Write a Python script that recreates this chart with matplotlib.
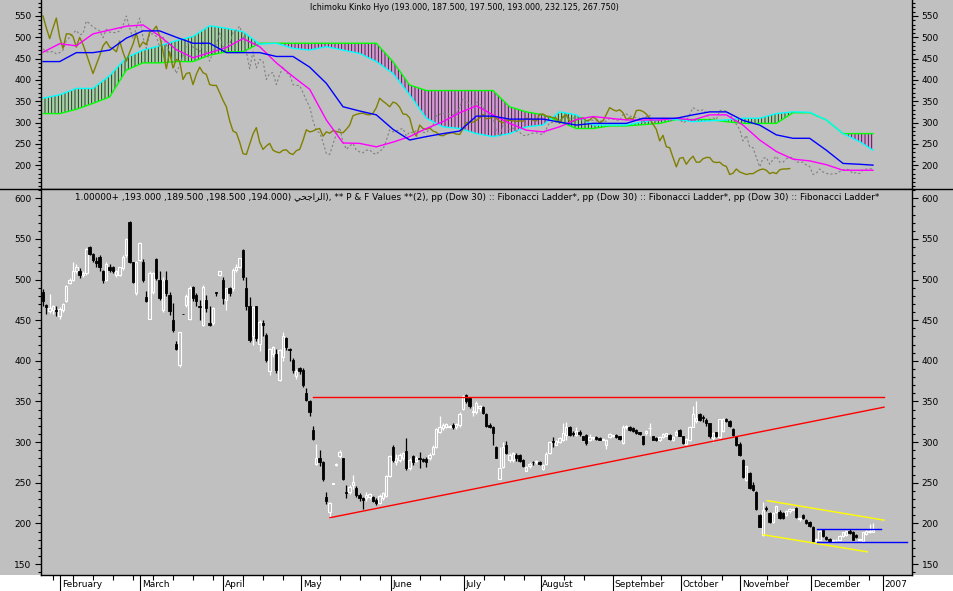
import numpy as np
import matplotlib
matplotlib.use("Agg")
import matplotlib.pyplot as plt
from matplotlib.lines import Line2D
from matplotlib.patches import Rectangle
from matplotlib.transforms import blended_transform_factory

# daily candles (6 trading days / week), index 0 = late January 2006
opens = [485,469,461,462,462,455,463,474,496,500,
         510,511,505,508,540,532,523,528,510,500,
         516,515,506,506,514,530,571,522,483,524,
         522,478,452,485,525,500,463,500,481,450,
         421,395,458,469,452,491,481,467,444,475,
         446,446,485,506,500,475,489,489,512,516,
         536,490,467,430,467,421,446,432,387,409,
         409,377,405,428,414,401,381,391,389,360,
         350,315,273,280,276,233,214,249,272,283,
         280,239,239,247,243,235,231,231,232,232,
         229,225,231,234,258,294,276,278,280,289,
         268,283,277,280,279,279,280,285,294,313,
         317,319,319,321,318,321,341,358,354,337,
         337,342,343,335,321,319,294,255,269,296,
         278,278,284,284,278,265,270,276,276,276,
         267,273,286,301,297,300,303,309,319,311,
         309,313,307,309,302,305,306,305,303,297,
         306,308,309,307,299,319,319,317,315,312,
         307,311,317,307,305,302,306,308,309,302,
         309,315,307,298,303,319,326,335,331,327,
         323,305,312,306,314,328,326,316,307,298,
         278,253,262,247,239,210,186,219,213,202,
         214,214,213,210,215,217,219,206,210,204,
         202,196,179,180,192,183,181,178,179,180,
         184,186,191,190,186,180,178,187,189,190]
highs = [488,470,482,469,467,466,471,493,502,521,
         519,514,511,539,541,533,528,530,512,521,
         519,517,512,516,530,551,572,522,523,546,
         525,486,510,509,527,511,503,511,485,471,
         425,436,458,482,492,492,483,475,493,481,
         467,466,485,511,503,490,491,514,519,527,
         537,503,478,468,468,450,450,434,416,418,
         415,414,435,429,416,403,390,393,391,366,
         352,320,298,290,277,239,226,250,274,290,
         281,247,247,259,246,238,233,239,238,234,
         231,236,239,260,284,297,285,287,288,305,
         281,284,283,288,281,282,286,296,317,332,
         323,324,321,323,324,337,358,359,355,344,
         350,346,344,336,323,320,295,294,300,301,
         286,288,287,285,279,271,276,277,278,277,
         273,288,301,306,302,306,324,325,320,314,
         318,315,308,310,310,306,307,306,305,304,
         311,309,310,308,321,321,320,318,316,313,
         308,315,323,308,306,307,311,311,310,307,
         315,316,308,305,320,344,350,336,333,330,
         324,313,313,329,330,330,327,317,308,300,
         279,271,263,251,240,211,226,222,214,214,
         221,216,214,216,219,219,220,207,211,205,
         203,197,182,192,193,184,182,181,181,186,
         190,192,193,191,187,181,190,192,199,200]
lows = [468,458,459,457,455,452,460,472,494,498,
        508,502,503,505,530,521,516,510,496,498,
        509,508,503,504,512,528,520,496,481,523,
        497,472,451,482,499,475,460,480,456,436,
        413,393,457,466,450,474,468,450,443,460,
        443,444,480,504,470,463,480,486,509,514,
        500,463,423,420,425,412,430,398,383,405,
        385,375,400,413,400,385,378,384,368,350,
        332,302,272,271,252,224,207,248,271,280,
        253,231,236,242,233,228,218,228,230,226,
        223,224,229,233,257,275,272,275,278,266,
        266,272,275,268,275,269,278,284,293,311,
        315,317,317,316,316,318,339,348,342,332,
        335,338,335,319,317,296,280,254,268,285,
        276,276,277,276,269,264,268,272,273,272,
        266,272,285,294,296,299,301,303,308,308,
        307,308,302,296,301,303,303,302,302,292,
        305,306,305,303,298,316,314,313,310,309,
        296,309,307,302,301,301,305,307,303,301,
        307,307,298,297,301,318,324,326,325,320,
        305,300,306,305,313,325,319,308,295,283,
        256,252,242,240,217,195,185,215,201,201,
        213,206,206,209,213,216,207,203,206,199,
        196,177,177,179,183,180,177,177,178,179,
        183,185,187,179,182,179,177,186,188,189]
closes = [473,466,465,467,461,464,470,492,500,510,
          516,506,508,538,532,524,520,515,499,519,
          512,511,511,515,528,550,522,497,522,545,
          500,474,508,508,502,477,500,483,461,438,
          415,436,457,480,490,477,473,466,491,465,
          444,465,484,510,477,489,483,512,516,526,
          503,467,426,466,428,448,444,401,415,417,
          389,413,430,417,413,389,387,387,370,352,
          337,304,280,276,254,227,225,249,273,288,
          254,237,245,251,235,231,229,235,236,228,
          225,234,237,258,283,278,280,284,286,268,
          278,275,281,279,277,276,284,294,316,319,
          321,322,319,318,322,335,357,350,344,337,
          348,345,336,320,319,311,281,268,294,286,
          284,287,280,277,270,269,273,275,276,273,
          272,285,300,300,301,305,311,319,309,310,
          314,310,303,299,306,305,304,303,304,303,
          310,308,306,304,319,320,315,314,311,310,
          298,314,317,303,302,306,310,311,304,306,
          313,308,299,304,319,335,330,327,330,323,
          307,311,307,328,329,326,320,309,296,284,
          257,270,243,241,218,196,216,218,202,213,
          221,207,207,215,218,218,208,206,207,200,
          197,178,181,191,184,181,178,180,180,185,
          189,191,188,180,183,180,189,191,191,192]

# ichimoku lines read every 5 days
ichi_x = list(range(0, 250, 5)) + [249]
tenkan = [465,485,480,508,517,526,529,503,471,452,
          464,476,497,478,440,408,378,306,252,251,
          243,254,267,286,302,323,339,318,298,282,
          278,290,307,314,310,306,306,306,310,306,
          318,318,294,259,232,214,210,201,188,188,188]
kijun = [443,443,464,464,470,498,515,515,500,486,
         486,464,464,464,455,455,430,392,337,327,
         318,284,259,267,274,280,315,315,308,308,
         308,301,294,298,298,298,310,310,310,318,
         325,325,305,294,271,263,263,235,204,202,200]
senkou_a = [357,365,380,380,410,452,470,480,492,502,
            527,521,513,484,486,474,470,478,470,462,
            443,415,365,310,290,286,274,267,274,290,
            294,325,318,294,294,294,302,307,307,302,
            304,306,310,310,321,325,324,306,274,255,235]
senkou_b = [321,321,331,345,360,423,440,440,443,443,
            458,466,466,486,486,486,486,486,486,486,
            486,443,388,375,375,375,375,375,337,325,
            318,302,286,286,292,292,295,298,307,307,
            307,302,298,298,298,323,323,306,274,274,274]
chikou_shift = 25

months = ["February", "March", "April", "May", "June", "July", "August",
          "September", "October", "November", "December", "2007"]
month_pos = [5.1, 29.1, 54.0, 77.4, 104.4, 126.3, 149.3, 171.0, 191.4, 209.1, 230.4, 252.0]
week_pos = [3.1, 9.1, 15.1, 21.1, 27.1, 33.1, 39.1, 45.1, 51.1, 60.1, 66.1, 72.1,
            83.1, 89.1, 95.1, 101.1, 113.1, 119.1, 132.3, 138.3, 144.3, 156.3, 162.3,
            179.3, 185.3, 197.3, 203.8, 217.3, 223.3, 241.8, 247.8]

# drawn trend lines (start index, start value, end index, end value)
resistance = (81, 356, 252.3, 356)
support = (86.1, 207, 252.3, 343)
channel_hi = (217.3, 228, 252.3, 204)
channel_lo = (216.1, 186, 247.3, 165)
box_hi = (232.1, 192.6, 251.3, 192.6)
box_lo = (232.3, 177, 259.3, 177)

BG = "#C0C0C0"
plt.rcParams["font.family"] = ["DejaVu Sans"]
plt.rcParams["hatch.linewidth"] = 0.6

fig = plt.figure(figsize=(9.54, 5.91), dpi=100, facecolor=BG)
W, H = 954.0, 591.0
ax1 = fig.add_axes([41 / W, 1 - 189 / H, 871 / W, 189 / H], facecolor=BG)
ax2 = fig.add_axes([41 / W, 16 / H, 871 / W, 386 / H], facecolor=BG)
fig.patches.append(Rectangle((0, 0), 1, 16 / H, transform=fig.transFigure,
                             facecolor="white", edgecolor="none", zorder=-1))

idx = np.arange(len(closes))
o = np.array(opens); hi = np.array(highs); lo = np.array(lows); c = np.array(closes)

# --- top: ichimoku ---
sa = np.array(senkou_a); sb = np.array(senkou_b)
ax1.fill_between(ichi_x, sa, sb, where=sa >= sb, interpolate=True,
                 facecolor="#A6D2A6", edgecolor="#202020", hatch="|||||", linewidth=0)
ax1.fill_between(ichi_x, sa, sb, where=sa < sb, interpolate=True,
                 facecolor="#D898D8", edgecolor="#202020", hatch="|||||", linewidth=0)
ax1.plot(ichi_x, senkou_b, color="#00FF00", lw=1.0)
ax1.plot(ichi_x, senkou_a, color="#00FFFF", lw=1.0)
ax1.plot(idx, c, color="#808080", lw=0.8, ls=(0, (2, 2)))
ax1.plot(idx[:-chikou_shift], c[chikou_shift:], color="#808000", lw=1.0)
ax1.plot(ichi_x, tenkan, color="#FF00FF", lw=1.0)
ax1.plot(ichi_x, kijun, color="#0000FF", lw=1.0)
ax1.set_ylim(144, 587.5)
ax1.text(0.486, 0.958, "Ichimoku Kinko Hyo (193.000, 187.500, 197.500, 193.000, 232.125, 267.750)",
         transform=ax1.transAxes, ha="center", va="center", fontsize=5.8)

# --- bottom: candles ---
up = c >= o
wick_col = np.where(up, "white", "black")
ax2.vlines(idx, lo, hi, colors=wick_col, lw=0.9, zorder=2)
body_bot = np.minimum(o, c)
body_h = np.maximum(np.abs(c - o), 0.8)
ax2.bar(idx[up], body_h[up], bottom=body_bot[up], width=0.7,
        facecolor=BG, edgecolor="white", linewidth=0.8, zorder=3)
ax2.bar(idx[~up], body_h[~up], bottom=body_bot[~up], width=0.7,
        facecolor="black", edgecolor="black", linewidth=0.6, zorder=3)

for seg, col in [(resistance, "#FF0000"), (support, "#FF0000"),
                 (channel_hi, "#FFFF00"), (channel_lo, "#FFFF00"),
                 (box_hi, "#0000FF"), (box_lo, "#0000FF")]:
    ax2.plot([seg[0], seg[2]], [seg[1], seg[3]], color=col, lw=1.0, zorder=4)

ax2.set_ylim(136.5, 611.4)
arabic = "\ufef2\ufea4\ufe9f\ufe8d\ufeae\ufedf\ufe8d"
title2 = ("1.00000+ ,193.000 ,189.500 ,198.500 ,194.000) " + arabic +
          "), ** P & F Values **(2), pp (Dow 30) :: Fibonacci Ladder*, pp (Dow 30) :: "
          "Fibonacci Ladder*, pp (Dow 30) :: Fibonacci Ladder*")
ax2.text(0.501, 0.979, title2, transform=ax2.transAxes, ha="center", va="center", fontsize=6.4)

# --- axes styling ---
for ax in (ax1, ax2):
    ax.set_xlim(-0.6, 260.7)
    ax.spines["top"].set_visible(False)
    for s in ("left", "right", "bottom"):
        ax.spines[s].set_linewidth(1.0)
    ax.tick_params(axis="y", which="both", direction="out", left=True, right=True,
                   labelleft=True, labelright=True, labelsize=6.5, pad=2.5, width=0.8)
    ax.tick_params(axis="y", which="major", length=4.5)
    ax.tick_params(axis="y", which="minor", length=2)

ax1.set_yticks(np.arange(200, 551, 50))
ax1.set_yticks(np.arange(150, 581, 10), minor=True)
ax1.set_xticks([])
ax2.set_yticks(np.arange(150, 601, 50))
ax2.set_yticks(np.arange(140, 611, 10), minor=True)

ax2.set_xticks(month_pos)
ax2.set_xticklabels([])
ax2.set_xticks(week_pos, minor=True)
ax2.tick_params(axis="x", which="major", direction="out", length=12, width=0.8)
ax2.tick_params(axis="x", which="minor", direction="out", length=3.5, width=0.8)
trans = blended_transform_factory(ax2.transData, ax2.transAxes)
for name, pos in zip(months, month_pos):
    ax2.text(pos + 0.5, -0.012, name, transform=trans, ha="left", va="top", fontsize=6.5)

fig.add_artist(Line2D([0, 1], [1 - 189 / H] * 2, color="black", lw=1.0,
                      transform=fig.transFigure))

fig.savefig("out.png", dpi=100, facecolor=BG)
